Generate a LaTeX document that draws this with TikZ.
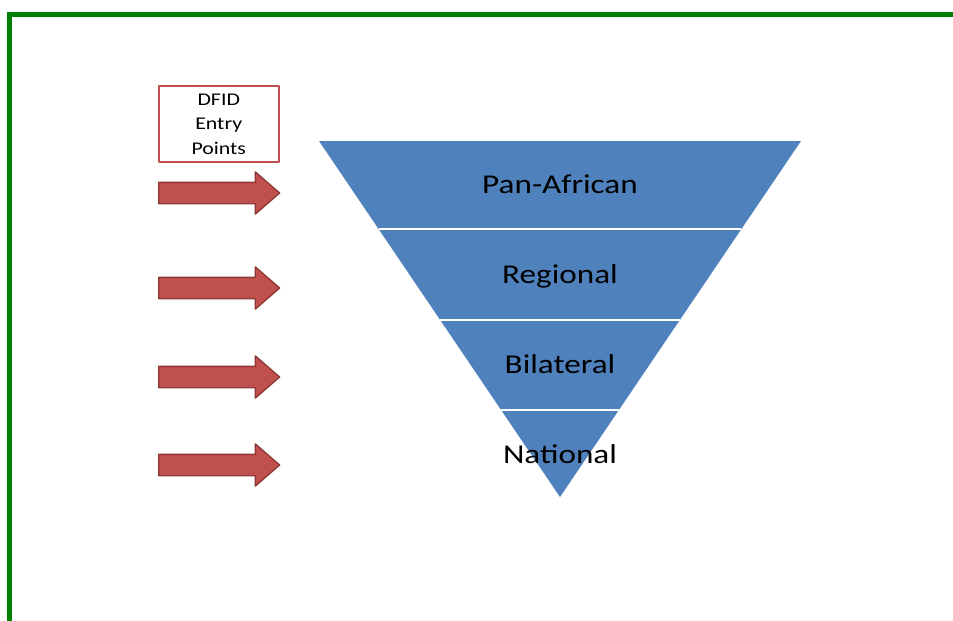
\documentclass[tikz,border=0pt]{standalone}
\usepackage{fontspec}
\setmainfont[FakeStretch=1.22]{Carlito}
\usepackage{tikz}
\definecolor{ink}{HTML}{000000}
\definecolor{tierblue}{HTML}{4F81BD}
\definecolor{entryred}{HTML}{C0504D}
\definecolor{entryedge}{HTML}{8C3836}
\definecolor{framegreen}{HTML}{008000}
\usetikzlibrary{
  arrows.meta,
  positioning,
  calc,
  shapes.arrows
}
\tikzset{
  every picture/.style={line join=round},
  greenframe/.style={draw=framegreen, line width=5pt, line cap=rect, line join=miter},
  entrybox/.style={
    draw=entryred,
    fill=white,
    line width=1.6pt,
    minimum width=120pt,
    minimum height=76pt,
    inner sep=0pt,
    align=center,
    font=\fontsize{17.9}{24.5}\selectfont,
    text=ink
  },
  entry/.style={
    single arrow,
    draw=entryedge,
    fill=entryred,
    line width=1.3pt,
    minimum height=121pt,
    inner xsep=0pt,
    inner ysep=10pt,
    single arrow head extend=10.5pt,
    single arrow tip angle=82,
    anchor=tail
  },
  band/.style={fill=tierblue},
  divider/.style={draw=white, line width=2pt},
  tierlabel/.style={anchor=base, font=\fontsize{27.2}{32}\selectfont, text=ink}
}

\begin{document}
\begin{tikzpicture}[x=1pt, y=-1pt]
  \useasboundingbox (0,0) rectangle (953,621);

  % Frame along the top and left edge
  \draw[greenframe] (9.5,621) -- (9.5,14.5) -- (953,14.5);

  % Entry points label and arrows
  \node[entrybox] (entrypoints) at (218.75,124) {DFID\\Entry\\Points};
  \node[entry] (panarrow) at (158,193) {};
  \node[entry] (regarrow) at (158,288) {};
  \node[entry] (bilarrow) at (158,377) {};
  \node[entry] (natarrow) at (158,465) {};

  % Inverted pyramid
  \coordinate (tl) at (319,141);
  \coordinate (tr) at (801,141);
  \coordinate (apex) at (560,497);
  \fill[band] (tl) -- (tr) -- (apex) -- cycle;
  \draw[divider] ($(tl)!0.2472!(apex)$) -- ($(tr)!0.2472!(apex)$);
  \draw[divider] ($(tl)!0.5028!(apex)$) -- ($(tr)!0.5028!(apex)$);
  \draw[divider] ($(tl)!0.7556!(apex)$) -- ($(tr)!0.7556!(apex)$);

  % Tier names
  \node[tierlabel] (panafrican) at (560,193) {Pan-African};
  \node[tierlabel] (regional) at (560,283) {Regional};
  \node[tierlabel] (bilateral) at (560,373.5) {Bilateral};
  \node[tierlabel] (national) at (560,463) {National};
\end{tikzpicture}
\end{document}
